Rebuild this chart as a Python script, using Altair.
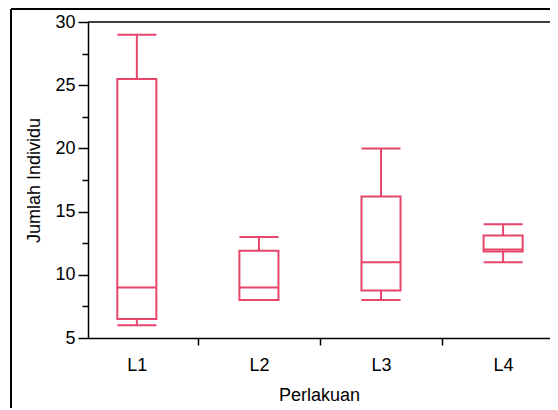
import altair as alt
import pandas as pd

categories = ["L1", "L2", "L3", "L4"]
v_min = [6, 8, 8, 11]
v_q1 = [6.5, 8, 8.75, 11.85]
v_median = [9, 9, 11, 12]
v_q3 = [25.5, 11.9, 16.2, 13.1]
v_max = [29, 13, 20, 14]

y_ticks = [5, 7.5, 10, 12.5, 15, 17.5, 20, 22.5, 25, 27.5, 30]
x_ticks = [1, 1.5, 2, 2.5, 3, 3.5, 4]

df = pd.DataFrame({
    "cat": categories,
    "idx": list(range(1, len(categories) + 1)),
    "vmin": v_min, "q1": v_q1, "med": v_median, "q3": v_q3, "vmax": v_max,
})

COLOR = "#E8456A"
SW = 2
HALF = 0.16
FONT = "Liberation Sans"
FS = 18
W, H = 462, 316

label_expr = "datum.value % 1 === 0 ? " + str(categories) + "[datum.value - 1] : ''"

xscale = alt.Scale(domain=[0.6, 4.384], nice=False, zero=False)
yscale = alt.Scale(domain=[5, 30], nice=False, zero=False)

x_axis = alt.Axis(
    values=x_ticks, labelExpr=label_expr, title="Perlakuan", grid=False,
    tickSize=7, tickWidth=1.5, domainWidth=1.5, domainColor="black", tickColor="black",
    tickOpacity={"condition": {"test": "datum.value % 1 === 0", "value": 0}, "value": 1},
    labelOverlap=False, labelFlush=False, labelPadding=11, labelFontSize=FS,
    labelColor="black", labelFont=FONT, titleFont=FONT, titleFontSize=FS,
    titleFontWeight="normal", titleColor="black", titlePadding=12,
)
y_axis = alt.Axis(
    values=y_ticks, labelExpr="datum.value % 5 === 0 ? datum.value : ''",
    title="Jumlah Individu", grid=False,
    tickSize={"condition": {"test": "datum.value % 5 === 0", "value": 10}, "value": 6},
    tickWidth=1.5, domainWidth=1.5, domainColor="black", tickColor="black",
    labelPadding=3, labelFontSize=FS, labelColor="black", labelFont=FONT,
    titleFont=FONT, titleFontSize=FS, titleFontWeight="normal", titleColor="black",
    titlePadding=11, labelOverlap=False, labelFlush=False,
)

base = alt.Chart(df).transform_calculate(
    xl=f"datum.idx - {HALF}", xr=f"datum.idx + {HALF}"
)

whisk_lo = base.mark_rule(color=COLOR, strokeWidth=SW).encode(
    x=alt.X("idx:Q", scale=xscale, axis=x_axis),
    y=alt.Y("vmin:Q", scale=yscale, axis=y_axis),
    y2="q1:Q",
)
whisk_hi = base.mark_rule(color=COLOR, strokeWidth=SW).encode(
    x=alt.X("idx:Q", scale=xscale, axis=x_axis),
    y=alt.Y("q3:Q", scale=yscale, axis=y_axis),
    y2="vmax:Q",
)
cap_lo = base.mark_rule(color=COLOR, strokeWidth=SW).encode(
    x=alt.X("xl:Q", scale=xscale, axis=x_axis), x2="xr:Q",
    y=alt.Y("vmin:Q", scale=yscale, axis=y_axis),
)
cap_hi = base.mark_rule(color=COLOR, strokeWidth=SW).encode(
    x=alt.X("xl:Q", scale=xscale, axis=x_axis), x2="xr:Q",
    y=alt.Y("vmax:Q", scale=yscale, axis=y_axis),
)
box = base.mark_rect(fill="transparent", stroke=COLOR, strokeWidth=SW).encode(
    x=alt.X("xl:Q", scale=xscale, axis=x_axis), x2="xr:Q",
    y=alt.Y("q1:Q", scale=yscale, axis=y_axis), y2="q3:Q",
)
median = base.mark_rule(color=COLOR, strokeWidth=SW).encode(
    x=alt.X("xl:Q", scale=xscale, axis=x_axis), x2="xr:Q",
    y=alt.Y("med:Q", scale=yscale, axis=y_axis),
)

one = alt.Data(values=[{"a": 1}])
top_line = alt.Chart(one).mark_rule(color="black", strokeWidth=1.5).encode(
    x=alt.value(0), x2=alt.value(W), y=alt.value(0)
)
outer_top = alt.Chart(one).mark_rule(color="black", strokeWidth=2).encode(
    x=alt.value(-77), x2=alt.value(W), y=alt.value(-13)
)
outer_left = alt.Chart(one).mark_rule(color="black", strokeWidth=2).encode(
    x=alt.value(-77), y=alt.value(-13), y2=alt.value(H + 70)
)

chart = alt.layer(
    whisk_lo, whisk_hi, cap_lo, cap_hi, box, median, top_line, outer_top, outer_left
).properties(
    width=W, height=H,
    autosize=alt.AutoSizeParams(type="none"),
    padding={"left": 80, "top": 14, "right": 0, "bottom": 70},
    background="white",
).configure_view(stroke=None)

chart.save("out.html", embed_options={"renderer": "svg", "actions": False})
